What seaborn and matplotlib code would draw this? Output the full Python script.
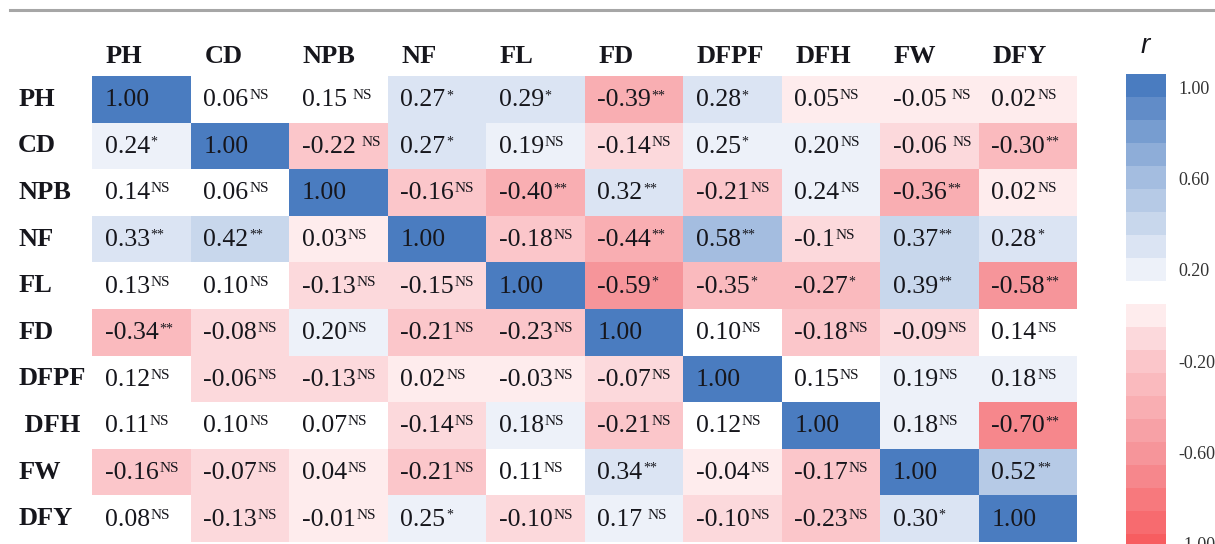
"""Trait correlation heatmap with significance marks."""

import matplotlib

matplotlib.use("Agg")

import matplotlib.pyplot as plt
import pandas as pd
import seaborn as sns
from matplotlib.colors import LinearSegmentedColormap
from matplotlib.lines import Line2D

traits = ["PH", "CD", "NPB", "NF", "FL", "FD", "DFPF", "DFH", "FW", "DFY"]
row_labels = ["PH", "CD", "NPB", "NF", "FL", "FD", "DFPF", " DFH", "FW", "DFY"]

# printed cell text: value^mark (a space before ^ means a gap in the print)
row_ph = ["1.00", "0.06^NS", "0.15 ^NS", "0.27^*", "0.29^*", "-0.39^**", "0.28^*", "0.05^NS", "-0.05 ^NS", "0.02^NS"]
row_cd = ["0.24^*", "1.00", "-0.22 ^NS", "0.27^*", "0.19^NS", "-0.14^NS", "0.25^*", "0.20^NS", "-0.06 ^NS", "-0.30^**"]
row_npb = ["0.14^NS", "0.06^NS", "1.00", "-0.16^NS", "-0.40^**", "0.32^**", "-0.21^NS", "0.24^NS", "-0.36^**", "0.02^NS"]
row_nf = ["0.33^**", "0.42^**", "0.03^NS", "1.00", "-0.18^NS", "-0.44^**", "0.58^**", "-0.1^NS", "0.37^**", "0.28^*"]
row_fl = ["0.13^NS", "0.10^NS", "-0.13^NS", "-0.15^NS", "1.00", "-0.59^*", "-0.35^*", "-0.27^*", "0.39^**", "-0.58^**"]
row_fd = ["-0.34^**", "-0.08^NS", "0.20^NS", "-0.21^NS", "-0.23^NS", "1.00", "0.10^NS", "-0.18^NS", "-0.09^NS", "0.14^NS"]
row_dfpf = ["0.12^NS", "-0.06^NS", "-0.13^NS", "0.02^NS", "-0.03^NS", "-0.07^NS", "1.00", "0.15^NS", "0.19^NS", "0.18^NS"]
row_dfh = ["0.11^NS", "0.10^NS", "0.07^NS", "-0.14^NS", "0.18^NS", "-0.21^NS", "0.12^NS", "1.00", "0.18^NS", "-0.70^**"]
row_fw = ["-0.16^NS", "-0.07^NS", "0.04^NS", "-0.21^NS", "0.11^NS", "0.34^**", "-0.04^NS", "-0.17^NS", "1.00", "0.52^**"]
row_dfy = ["0.08^NS", "-0.13^NS", "-0.01^NS", "0.25^*", "-0.10^NS", "0.17 ^NS", "-0.10^NS", "-0.23^NS", "0.30^*", "1.00"]

cbar_ticks = [1.0, 0.6, 0.2, -0.2, -0.6, -1.0]

cells = [row_ph, row_cd, row_npb, row_nf, row_fl, row_fd, row_dfpf, row_dfh, row_fw, row_dfy]
shown = [[c.split("^")[0] for c in row] for row in cells]
marks = [[c.split("^")[1] if "^" in c else "" for c in row] for row in cells]
r = pd.DataFrame([[float(s) for s in row] for row in shown], index=traits, columns=traits)

serif = "Liberation Serif"
ink = "#16161c"

cmap = LinearSegmentedColormap.from_list(
    "rwb",
    [(0.0, "#f75d60"), (0.2, "#f6959a"), (0.4, "#fbc6ca"), (0.55, "#ffffff"),
     (0.6, "#edf1f9"), (0.8, "#a4bde0"), (1.0, "#4a7cc0")],
    N=21,
)

W, H = 1215, 544
fig = plt.figure(figsize=(W / 100, H / 100), dpi=100)
ax = fig.add_axes([92 / W, 1 - 542 / H, (1077 - 92) / W, (542 - 76) / H])
cax = fig.add_axes([1126 / W, 1 - 557 / H, 40 / W, (557 - 74) / H])

sns.heatmap(
    r, ax=ax, cbar_ax=cax, cmap=cmap, vmin=-1.06, vmax=1.06,
    xticklabels=False, yticklabels=False, linewidths=0,
)
ax.tick_params(length=0)

for i in range(len(traits)):
    for j in range(len(traits)):
        txt = shown[i][j]
        t = ax.text(j + 0.13, i + 0.52, txt.strip(), ha="left", va="center",
                    fontsize=18.5, family=serif, color=ink)
        if marks[i][j]:
            gap = 4 if txt.endswith(" ") else 0.5
            ax.annotate(marks[i][j], xy=(1, 1), xycoords=t, xytext=(gap, 0),
                        textcoords="offset points", ha="left", va="top",
                        fontsize=11 if marks[i][j] == "NS" else 10,
                        family=serif, color=ink)

for j, name in enumerate(traits):
    ax.text(j + 0.14, -0.41, name, ha="left", va="center", fontsize=19,
            family=serif, fontweight="bold", color=ink, clip_on=False)
for i, name in enumerate(row_labels):
    ax.text(-0.75, i + 0.5, name, ha="left", va="center", fontsize=19,
            family=serif, fontweight="bold", color=ink, clip_on=False)

cbar = ax.collections[0].colorbar
cbar.set_ticks(cbar_ticks)
cbar.set_ticklabels([f"{v:.2f}" for v in cbar_ticks])
cbar.outline.set_visible(False)
cax.tick_params(length=0, pad=9, labelsize=13, labelcolor="#333333")
for lab in cax.get_yticklabels():
    lab.set_family(serif)

fig.text(1145 / W, 1 - 46 / H, "r", ha="center", va="center", fontsize=20,
         style="italic", family="Liberation Sans", color=ink)
fig.add_artist(Line2D([10 / W, 1], [1 - 9.5 / H] * 2, color="#a6a6a6", lw=2.2))

fig.savefig("out.png", dpi=100)
